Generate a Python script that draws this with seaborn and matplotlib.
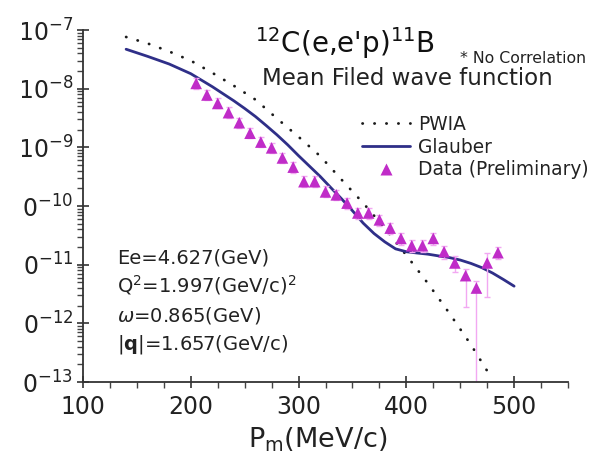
import numpy as np
import pandas as pd
import seaborn as sns
import matplotlib
matplotlib.use("Agg")
import matplotlib.pyplot as plt
from matplotlib.ticker import LogLocator, FixedLocator, MultipleLocator, FuncFormatter, NullFormatter
from matplotlib.lines import Line2D
from matplotlib.transforms import Bbox, TransformedBbox

# ---------------- data ----------------
pm_pwia = [140, 160, 180, 200, 220, 240, 260, 280, 300, 320, 340, 360, 380, 400, 420, 440, 460, 480]
xs_pwia = [7.6e-8, 5.9e-8, 4.3e-8, 3.0e-8, 1.86e-8, 1.12e-8, 6.5e-9, 3.1e-9, 1.51e-9,
           7.1e-10, 2.8e-10, 1.12e-10, 4.2e-11, 1.45e-11, 4.8e-12, 1.48e-12, 4.3e-13, 1.1e-13]

pm_glauber = [140, 160, 180, 200, 220, 240, 250, 260, 270, 280, 290, 300, 310, 320, 330, 340,
              350, 360, 370, 380, 390, 400, 410, 420, 430, 440, 450, 460, 470, 480, 490, 500]
xs_glauber = [4.7e-8, 3.55e-8, 2.63e-8, 1.8e-8, 1.08e-8, 6.2e-9, 4.6e-9, 3.35e-9, 2.35e-9,
              1.63e-9, 1.1e-9, 7.2e-10, 4.8e-10, 3.2e-10, 2.05e-10, 1.32e-10, 8.3e-11, 5.1e-11,
              3.4e-11, 2.45e-11, 1.86e-11, 1.66e-11, 1.58e-11, 1.51e-11, 1.41e-11, 1.32e-11,
              1.2e-11, 1.05e-11, 8.9e-12, 7.2e-12, 5.6e-12, 4.3e-12]

pm_data = [205, 215, 225, 235, 245, 255, 265, 275, 285, 295, 305, 315, 325, 335, 345,
           355, 365, 375, 385, 395, 405, 415, 425, 435, 445, 455, 465, 475, 485]
xs_data = [1.23e-8, 7.8e-9, 5.6e-9, 3.9e-9, 2.63e-9, 1.74e-9, 1.23e-9, 9.8e-10, 6.6e-10,
           4.6e-10, 2.6e-10, 2.6e-10, 1.74e-10, 1.55e-10, 1.12e-10, 7.6e-11, 7.6e-11, 5.8e-11,
           4.2e-11, 2.8e-11, 2.1e-11, 2.1e-11, 2.8e-11, 1.66e-11, 1.07e-11, 6.5e-12, 4.0e-12,
           1.07e-11, 1.6e-11]
xs_data_lo = [1.0e-8, 6.4e-9, 4.6e-9, 3.2e-9, 2.15e-9, 1.42e-9, 1.0e-9, 8.0e-10, 5.4e-10,
              3.7e-10, 2.1e-10, 2.1e-10, 1.4e-10, 1.25e-10, 9.0e-11, 6.1e-11, 6.1e-11, 4.6e-11,
              3.3e-11, 2.2e-11, 1.65e-11, 1.65e-11, 2.2e-11, 1.25e-11, 7.5e-12, 1.9e-12, 1e-15,
              2.8e-12, 1.25e-11]
xs_data_hi = [1.5e-8, 9.6e-9, 6.9e-9, 4.8e-9, 3.2e-9, 2.15e-9, 1.5e-9, 1.2e-9, 8.1e-10,
              5.6e-10, 3.2e-10, 3.2e-10, 2.15e-10, 1.9e-10, 1.38e-10, 9.3e-11, 9.3e-11, 7.1e-11,
              5.2e-11, 3.5e-11, 2.6e-11, 2.6e-11, 3.5e-11, 2.1e-11, 1.4e-11, 8.5e-12, 5.2e-12,
              1.6e-11, 2.0e-11]

x_ticks = [100, 200, 300, 400, 500]
y_decades = [-13, -12, -11, -10, -9, -8, -7]

title_text = r"$^{12}$C(e,e'p)$^{11}$B"
note_text = "* No Correlation"
subtitle_text = "Mean Filed wave function"
legend_labels = ["PWIA", "Glauber", "Data (Preliminary)"]
info_lines = ["Ee=4.627(GeV)", r"Q$^2$=1.997(GeV/c)$^2$", r"$\omega$=0.865(GeV)",
              r"$|\mathbf{q}|$=1.657(GeV/c)"]
x_label = r"P$_{\rm m}$(MeV/c)"

# ---------------- style ----------------
sns.set_style("ticks")
plt.rcParams["font.family"] = ["DejaVu Sans"]
plt.rcParams["mathtext.fontset"] = "dejavusans"

W, H = 605, 458
fig = plt.figure(figsize=(W / 100, H / 100), dpi=100)
ax = fig.add_axes([83 / W, 1 - 382 / H, (568 - 83) / W, (382 - 30) / H])

pwia_color = "#1a1a1a"
glauber_color = "#2f2f88"
data_color = "#c02cc8"
err_color = "#f2a8f2"
dot_style = (0, (0.1, 4.2))

df_pwia = pd.DataFrame({"pm": pm_pwia, "xs": xs_pwia})
df_gl = pd.DataFrame({"pm": pm_glauber, "xs": xs_glauber})
df_data = pd.DataFrame({"pm": pm_data, "xs": xs_data, "lo": xs_data_lo, "hi": xs_data_hi})

sns.lineplot(data=df_pwia, x="pm", y="xs", ax=ax, color=pwia_color, lw=2.0,
             linestyle=dot_style, dash_capstyle="round", sort=False)
sns.lineplot(data=df_gl, x="pm", y="xs", ax=ax, color=glauber_color, lw=2.0, sort=False)

yerr = [df_data["xs"] - df_data["lo"], df_data["hi"] - df_data["xs"]]
ax.errorbar(df_data["pm"], df_data["xs"], yerr=yerr, fmt="none", ecolor=err_color,
            elinewidth=1.0, capsize=2.5, capthick=1.0, zorder=2)
sns.scatterplot(data=df_data, x="pm", y="xs", ax=ax, marker="^", s=70, color=data_color,
                edgecolor="none", zorder=3)

ax.set_yscale("log")
ax.set_xlim(100, 550)
ax.set_ylim(1e-13, 1e-7)

ax.xaxis.set_major_locator(FixedLocator(x_ticks))
ax.xaxis.set_minor_locator(MultipleLocator(25))
ax.yaxis.set_major_locator(FixedLocator([10.0 ** d for d in y_decades]))
ax.yaxis.set_minor_locator(LogLocator(base=10, subs=np.arange(2, 10), numticks=20))
ax.yaxis.set_minor_formatter(NullFormatter())
ax.yaxis.set_major_formatter(FuncFormatter(lambda v, p: r"10$^{%d}$" % int(round(np.log10(v)))))

ax.tick_params(axis="both", which="major", direction="inout", length=8, width=1.2,
               labelsize=17, color="#333333", labelcolor="#222222")
ax.tick_params(axis="both", which="minor", direction="out", length=4, width=1.0, color="#444444")
ax.tick_params(axis="x", which="major", pad=5)
ax.tick_params(axis="y", which="major", pad=3)

for s in ["top", "right"]:
    ax.spines[s].set_visible(False)
for s in ["left", "bottom"]:
    ax.spines[s].set_linewidth(1.3)
    ax.spines[s].set_color("#333333")

ax.set_xlabel(x_label, fontsize=19.5, color="#222222")
ax.xaxis.set_label_coords((318 - 83) / 485, -0.125)
ax.set_ylabel("")

# texts
fig.text(345 / W, 1 - 53 / H, title_text, fontsize=20, ha="center", va="baseline", color="#111111")
fig.text(460 / W, 1 - 63 / H, note_text, fontsize=11.3, ha="left", va="baseline", color="#222222")
fig.text(262 / W, 1 - 85 / H, subtitle_text, fontsize=16.5, ha="left", va="baseline", color="#222222")
for i, line in enumerate(info_lines):
    fig.text(117 / W, 1 - (263 + 29 * i) / H, line, fontsize=14, ha="left", va="baseline",
             color="#222222")

handles = [Line2D([], [], color=pwia_color, lw=2.0, linestyle=dot_style, dash_capstyle="round"),
           Line2D([], [], color=glauber_color, lw=2.0),
           Line2D([], [], color=data_color, marker="^", markersize=8, linestyle="none",
                  markeredgecolor="none")]
leg = ax.legend(handles, legend_labels, loc="upper left", bbox_to_anchor=(362 / W, 1 - 115 / H),
                bbox_transform=fig.transFigure, frameon=False, fontsize=13.4, handlelength=2.6,
                handletextpad=0.4, labelspacing=0.2, borderpad=0, borderaxespad=0)
for t in leg.get_texts():
    t.set_color("#222222")

# the source image is cut on its left edge
clip = TransformedBbox(Bbox([[22 / W, 0], [1, 1]]), fig.transFigure)
for lab in ax.get_yticklabels():
    lab.set_clip_box(clip)
    lab.set_clip_on(True)

fig.savefig("out.png", dpi=100)
